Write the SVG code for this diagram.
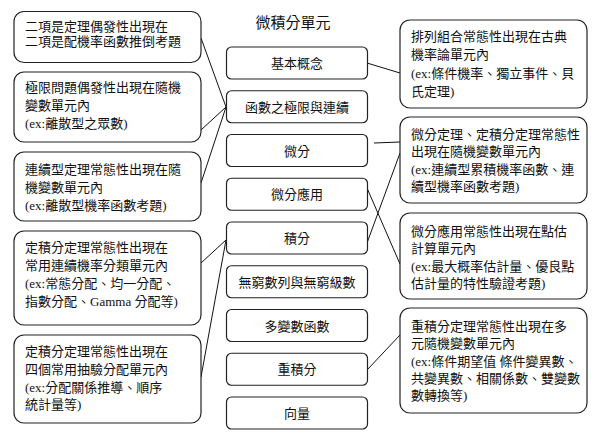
<svg xmlns="http://www.w3.org/2000/svg" width="600" height="442" viewBox="0 0 600 442">
<style>
text{font-family:"Liberation Serif","Noto Sans CJK TC",serif;font-size:13px;fill:#111}
.c{text-anchor:middle}
.side{fill:#fff;stroke:#222;stroke-width:1.2}
.unit{fill:#fff;stroke:#222;stroke-width:1.2}
.con line{stroke:#111;stroke-width:1}
</style>
<rect width="600" height="442" fill="#fff"/>
<text id="title" x="293" y="28" class="c" style="font-size:15px">微積分單元</text>

<g class="con" id="connectors">
<line x1="201" y1="38" x2="226" y2="107"/>
<line x1="201" y1="130" x2="226" y2="107"/>
<line x1="201" y1="183" x2="226" y2="107"/>
<line x1="201" y1="263" x2="226" y2="240"/>
<line x1="201" y1="377" x2="226" y2="240"/>
<line x1="367" y1="63" x2="400" y2="73"/>
<line x1="374" y1="143" x2="400" y2="142"/>
<line x1="367" y1="243" x2="400" y2="153"/>
<line x1="367" y1="188" x2="400" y2="264"/>
<line x1="367" y1="370" x2="400" y2="335"/>
</g>

<g id="u1"><rect class="unit" x="226.5" y="47" width="141" height="32" rx="5"/><text class="c" x="297" y="68">基本概念</text></g>
<g id="u2"><rect class="unit" x="226.5" y="90.75" width="141" height="32" rx="5"/><text class="c" x="297" y="111.75">函數之極限與連續</text></g>
<g id="u3"><rect class="unit" x="226.5" y="134.5" width="141" height="32" rx="5"/><text class="c" x="297" y="155.5">微分</text></g>
<g id="u4"><rect class="unit" x="226.5" y="178.25" width="141" height="32" rx="5"/><text class="c" x="297" y="199.25">微分應用</text></g>
<g id="u5"><rect class="unit" x="226.5" y="222" width="141" height="32" rx="5"/><text class="c" x="297" y="243">積分</text></g>
<g id="u6"><rect class="unit" x="226.5" y="265.75" width="141" height="32" rx="5"/><text class="c" x="297" y="286.75">無窮數列與無窮級數</text></g>
<g id="u7"><rect class="unit" x="226.5" y="309.5" width="141" height="32" rx="5"/><text class="c" x="297" y="330.5">多變數函數</text></g>
<g id="u8"><rect class="unit" x="226.5" y="353.25" width="141" height="32" rx="5"/><text class="c" x="297" y="374.25">重積分</text></g>
<g id="u9"><rect class="unit" x="226.5" y="397" width="141" height="32" rx="5"/><text class="c" x="297" y="418">向量</text></g>

<g id="l1"><rect class="side" x="14" y="11.5" width="187" height="51" rx="10"/>
<text x="25" y="31">二項是定理偶發性出現在</text>
<text x="25" y="46">二項是配機率函數推倒考題</text></g>
<g id="l2"><rect class="side" x="14" y="72" width="187" height="70" rx="10"/>
<text x="25" y="92">極限問題偶發性出現在隨機</text>
<text x="25" y="110">變數單元內</text>
<text x="25" y="128">(ex:離散型之眾數)</text></g>
<g id="l3"><rect class="side" x="14" y="152" width="187" height="69" rx="10"/>
<text x="25" y="174">連續型定理常態性出現在隨</text>
<text x="25" y="192">機變數單元內</text>
<text x="25" y="210">(ex:離散型機率函數考題)</text></g>
<g id="l4"><rect class="side" x="14" y="231" width="187" height="94" rx="10"/>
<text x="25" y="252">定積分定理常態性出現在</text>
<text x="25" y="270">常用連續機率分類單元內</text>
<text x="25" y="288">(ex:常態分配、均一分配、</text>
<text x="25" y="306">指數分配、Gamma 分配等)</text></g>
<g id="l5"><rect class="side" x="14" y="335" width="187" height="88" rx="10"/>
<text x="25" y="356">定積分定理常態性出現在</text>
<text x="25" y="374">四個常用抽驗分配單元內</text>
<text x="25" y="392">(ex:分配關係推導、順序</text>
<text x="25" y="409">統計量等)</text></g>

<g id="r1"><rect class="side" x="400" y="20" width="187" height="88" rx="10"/>
<text x="411" y="41">排列組合常態性出現在古典</text>
<text x="411" y="59">機率論單元內</text>
<text x="411" y="78">(ex:條件機率、獨立事件、貝</text>
<text x="411" y="96">氏定理)</text></g>
<g id="r2"><rect class="side" x="400" y="117" width="187" height="86" rx="10"/>
<text x="411" y="139">微分定理、定積分定理常態性</text>
<text x="411" y="156">出現在隨機變數單元內</text>
<text x="411" y="174">(ex:連續型累積機率函數、連</text>
<text x="411" y="191">續型機率函數考題)</text></g>
<g id="r3"><rect class="side" x="400" y="213" width="187" height="86" rx="10"/>
<text x="411" y="236">微分應用常態性出現在點估</text>
<text x="411" y="253">計算單元內</text>
<text x="411" y="271">(ex:最大概率估計量、優良點</text>
<text x="411" y="288">估計量的特性驗證考題)</text></g>
<g id="r4"><rect class="side" x="400" y="308" width="187" height="105" rx="10"/>
<text x="411" y="331">重積分定理常態性出現在多</text>
<text x="411" y="348">元隨機變數單元內</text>
<text x="411" y="366">(ex:條件期望值 條件變異數、</text>
<text x="411" y="383">共變異數、相關係數、雙變數</text>
<text x="411" y="400">數轉換等)</text></g>
</svg>
